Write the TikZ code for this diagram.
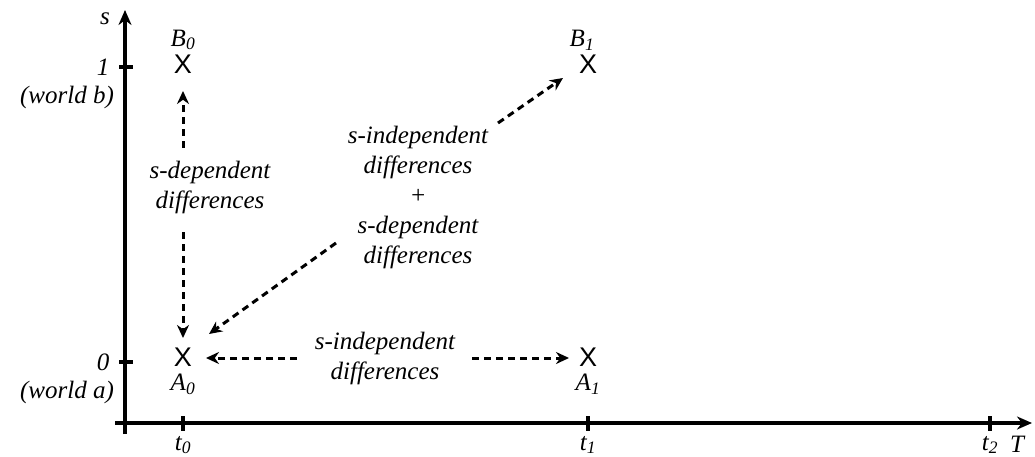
\documentclass[tikz,border=0pt]{standalone}
\usepackage{fontspec}
\setmainfont{Liberation Serif}
\newfontfamily\xfont{Liberation Sans}
\usetikzlibrary{arrows.meta}
\begin{document}
\begin{tikzpicture}[x=1pt,y=-1pt,
  txt/.style={font=\fontsize{25}{30}\selectfont\itshape, align=center, inner sep=0pt},
  crs/.style={font=\xfont\fontsize{27}{27}\selectfont, inner sep=0pt},
  axis/.style={line width=3.2pt},
  axarr/.style={line width=3.2pt, -{Stealth[length=15pt,width=13pt]}},
  darr/.style={line width=3pt, dash pattern=on 7pt off 5pt, -{Stealth[length=13pt,width=12pt]}},
]
\useasboundingbox (0,0) rectangle (1035,457);
% axes
\coordinate (yb) at (125,434);
\coordinate (yt) at (125,10);
\coordinate (xl) at (115,423);
\coordinate (xr) at (1032,423);
\draw[axarr] (yb) -- (yt);
\draw[axarr] (xl) -- (xr);
% ticks
\draw[axis] (119,67) -- (133,67);
\draw[axis] (119,362) -- (133,362);
\draw[axis] (183,416) -- (183,431);
\draw[axis] (588,416) -- (588,431);
\draw[axis] (990,416) -- (990,431);
% axis labels
\node[txt] (ls) at (105,19) {s};
\node[txt] (l1) at (103,67) {1};
\node[txt] (lwb) at (67,97) {(world b)};
\node[txt] (l0) at (103,362) {0};
\node[txt] (lwa) at (67,392) {(world a)};
\node[txt] (lt0) at (183,445) {t\textsubscript{0}};
\node[txt] (lt1) at (588,445) {t\textsubscript{1}};
\node[txt] (lt2) at (990,445) {t\textsubscript{2}};
\node[txt] (lT) at (1017,444) {T};
% points
\node[crs] (B0) at (183,64) {X};
\node[crs] (B1) at (588,64) {X};
\node[crs] (A0) at (183,357) {X};
\node[crs] (A1) at (588,357) {X};
\node[txt] (lB0) at (183,40) {B\textsubscript{0}};
\node[txt] (lB1) at (582,40) {B\textsubscript{1}};
\node[txt] (lA0) at (183,384) {A\textsubscript{0}};
\node[txt] (lA1) at (588,384) {A\textsubscript{1}};
% texts
\node[txt] (sdep) at (210,187) {s-dependent\\differences};
\node[txt] (mid) at (418,197) {s-independent\\differences\\+\\s-dependent\\differences};
\node[txt] (sind) at (385,358) {s-independent\\differences};
% arrow ends
\coordinate (u1) at (183,148);
\coordinate (u2) at (183,91);
\coordinate (d1) at (183,232);
\coordinate (d2) at (183,338);
\coordinate (g1) at (336,243);
\coordinate (g2) at (209,334);
\coordinate (h1) at (498,123);
\coordinate (h2) at (563,78);
\coordinate (l1s) at (297,358);
\coordinate (l1e) at (206,358);
\coordinate (r1s) at (472,358);
\coordinate (r1e) at (569,358);
\draw[darr] (u1) -- (u2);
\draw[darr] (d1) -- (d2);
\draw[darr] (g1) -- (g2);
\draw[darr] (h1) -- (h2);
\draw[darr] (l1s) -- (l1e);
\draw[darr] (r1s) -- (r1e);
\end{tikzpicture}
\end{document}
